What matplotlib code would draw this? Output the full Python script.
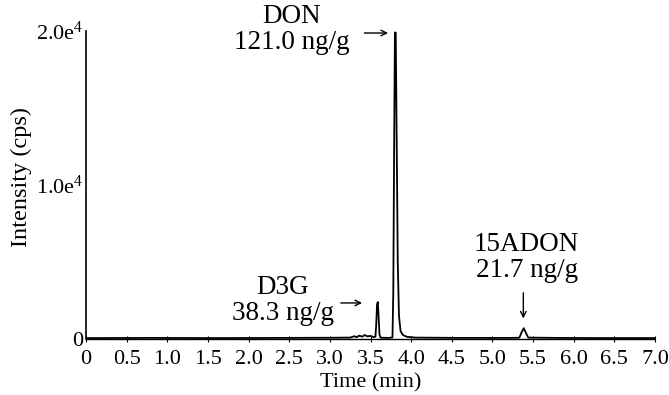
import matplotlib
matplotlib.use("Agg")
import matplotlib.pyplot as plt

plt.rcParams['font.family'] = ['Liberation Serif', 'DejaVu Serif']
plt.rcParams['mathtext.default'] = 'regular'

# chromatogram trace (min, cps)
time = [0.0, 0.8, 1.6, 2.4, 3.0, 3.25, 3.30, 3.33, 3.36, 3.40, 3.43, 3.46,
        3.50, 3.54, 3.56, 3.57, 3.58, 3.59, 3.60, 3.61, 3.625, 3.65, 3.72,
        3.77, 3.78, 3.79, 3.80, 3.81, 3.82, 3.835, 3.85, 3.87, 3.90,
        3.95, 4.05, 4.6, 5.2, 5.33, 5.36, 5.385, 5.41, 5.44, 5.8, 6.4, 7.0]
intensity = [60, 70, 60, 70, 80, 90, 180, 120, 220, 150, 260, 170,
             200, 120, 150, 900, 2250, 2400, 1400, 300, 80, 80, 70,
             100, 3000, 12000, 19900, 19900, 14000, 5000, 1500, 500, 250,
             140, 90, 70, 70, 80, 450, 700, 420, 90, 70, 60, 60]

xticks = [0, 0.5, 1.0, 1.5, 2.0, 2.5, 3.0, 3.5, 4.0, 4.5, 5.0, 5.5, 6.0, 6.5, 7.0]
xticklabels = ['0', '0.5', '1.0', '1.5', '2.0', '2.5', '3.0', '3.5', '4.0',
               '4.5', '5.0', '5.5', '6.0', '6.5', '7.0']
yticks = [0, 10000, 20000]
yticklabels = ['0', '1.0e$^{4}$', '2.0e$^{4}$']

fig = plt.figure(figsize=(6.69, 3.95), dpi=100)
ax = fig.add_axes([0.1286, 0.1418, 0.8505, 0.7797])

ax.plot(time, intensity, color='black', lw=1.3)

ax.set_xlim(0, 7.0)
ax.set_ylim(0, 20000)
ax.set_xticks(xticks)
ax.set_xticklabels(xticklabels, fontsize=16)
ax.set_yticks(yticks)
ax.set_yticklabels(yticklabels, fontsize=16)
ax.tick_params(axis='x', direction='inout', length=4, width=0.8, pad=6)
ax.tick_params(axis='y', direction='in', length=0, pad=2)
for s in ['top', 'right']:
    ax.spines[s].set_visible(False)
ax.spines['left'].set_linewidth(1.2)
ax.spines['bottom'].set_linewidth(1.0)
ax.spines['bottom'].set_linestyle((0, (1, 1)))

ax.set_xlabel('Time (min)', fontsize=16, labelpad=3)
ax.set_ylabel('Intensity (cps)', fontsize=17.5)
ax.yaxis.set_label_coords(-0.095, 0.526)

# peak labels
ax.text(2.53, 20100, 'DON\n121.0 ng/g', ha='center', va='center',
        fontsize=19.5, linespacing=1.05)
ax.annotate('', xy=(3.75, 19870), xytext=(3.39, 19870),
            arrowprops=dict(arrowstyle='->', lw=1.0, color='black'))

ax.text(2.42, 2470, 'D3G\n38.3 ng/g', ha='center', va='center',
        fontsize=19.5, linespacing=1.05)
ax.annotate('', xy=(3.43, 2340), xytext=(3.10, 2340),
            arrowprops=dict(arrowstyle='->', lw=1.0, color='black'))

ax.text(5.42, 5320, '15ADON\n21.7 ng/g', ha='center', va='center',
        fontsize=19.5, linespacing=1.05)
ax.annotate('', xy=(5.38, 1150), xytext=(5.38, 3180),
            arrowprops=dict(arrowstyle='->', lw=1.0, color='black'))

fig.savefig('out.png', dpi=100)
